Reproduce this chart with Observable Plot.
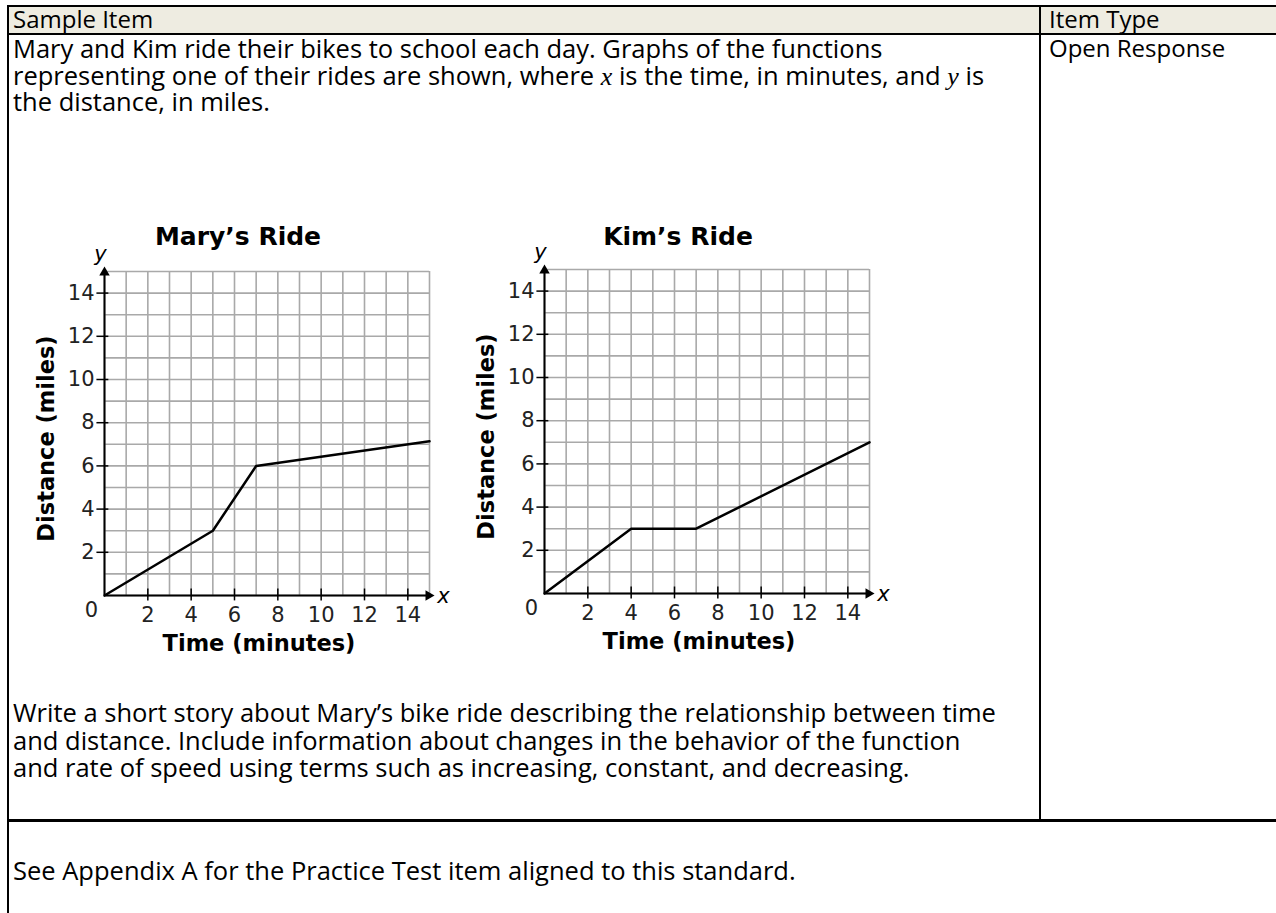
<!DOCTYPE html>
<html><head><meta charset="utf-8">
<script src="https://cdn.jsdelivr.net/npm/d3@7"></script>
<script src="https://cdn.jsdelivr.net/npm/@observablehq/plot@0.6"></script>
<style>
body{margin:0;background:#fff;}
#page{position:relative;width:1276px;height:913px;overflow:hidden;font-family:"Open Sans",Lato,sans-serif;font-size:24px;color:#000;}
.ln{position:absolute;white-space:nowrap;line-height:26px;}
.b{font-size:25.5px;}
.bar{position:absolute;background:#000;}
.m{font-family:"Liberation Serif",serif;font-style:italic;font-size:26px;}
.ttl{position:absolute;width:440px;text-align:center;font-family:"DejaVu Sans",sans-serif;font-weight:bold;font-size:25px;line-height:26px;}
.chart{position:absolute;}
</style></head><body>
<div id="page">
  <div style="position:absolute;left:8px;top:7px;width:1268px;height:26px;background:#EEECE1;"></div>
  <div class="bar" style="left:7px;top:5px;width:1269px;height:2px;"></div>
  <div class="bar" style="left:7px;top:33px;width:1269px;height:1.5px;"></div>
  <div class="bar" style="left:7px;top:5px;width:2px;height:908px;"></div>
  <div class="bar" style="left:1039px;top:5px;width:2px;height:816px;"></div>
  <div class="bar" style="left:7px;top:819px;width:1269px;height:2.5px;"></div>

  <div class="ln" style="left:13px;top:6px;">Sample Item</div>
  <div class="ln" style="left:1049px;top:6px;">Item Type</div>
  <div class="ln b" style="left:13px;top:35px;">Mary and Kim ride their bikes to school each day. Graphs of the functions</div>
  <div class="ln b" style="left:13px;top:62px;">representing one of their rides are shown, where <span class="m">x</span> is the time, in minutes, and <span class="m">y</span> is</div>
  <div class="ln b" style="left:13px;top:88px;">the distance, in miles.</div>
  <div class="ln" style="left:1049px;top:35px;">Open Response</div>

  <div class="ttl" style="left:18px;top:224px;">Mary’s Ride</div>
  <div class="ttl" style="left:458px;top:224px;">Kim’s Ride</div>
  <div class="chart" id="mary" style="left:20px;top:245px;"></div>
  <div class="chart" id="kim" style="left:460px;top:243px;"></div>

  <div class="ln b" style="left:13px;top:699px;">Write a short story about Mary’s bike ride describing the relationship between time</div>
  <div class="ln b" style="left:13px;top:727px;">and distance. Include information about changes in the behavior of the function</div>
  <div class="ln b" style="left:13px;top:754px;">and rate of speed using terms such as increasing, constant, and decreasing.</div>
  <div class="ln b" style="left:13px;top:857px;">See Appendix A for the Practice Test item aligned to this standard.</div>
</div>
<script>
const axisDomain = [0, 15];
const gridValues = [0, 1, 2, 3, 4, 5, 6, 7, 8, 9, 10, 11, 12, 13, 14, 15];
const xTickValues = [2, 4, 6, 8, 10, 12, 14];
const yTickValues = [2, 4, 6, 8, 10, 12, 14];
const originLabel = [0];
const xAxisTitle = "Time (minutes)";
const yAxisTitle = "Distance (miles)";
const maryTime = [0, 5, 7, 15];
const maryDistance = [0, 3, 6, 7.14];
const kimTime = [0, 4, 7, 15];
const kimDistance = [0, 3, 3, 7];

function rideChart(times, dists) {
  const data = times.map((t, i) => ({time: t, distance: dists[i]}));
  const gridStyle = {stroke: "#a9a9a9", strokeOpacity: 1, strokeWidth: 1.6};
  return Plot.plot({
    width: 440, height: 415,
    marginLeft: 84, marginRight: 31, marginTop: 26, marginBottom: 65,
    x: {domain: axisDomain, label: null},
    y: {domain: axisDomain, label: null},
    style: {fontFamily: "DejaVu Sans", fontSize: "21px", color: "#222", background: "none", overflow: "visible"},
    marks: [
      Plot.gridX(gridValues, gridStyle),
      Plot.gridY(gridValues, gridStyle),
      Plot.ruleX([axisDomain[0]], {stroke: "#000", strokeWidth: 2}),
      Plot.ruleY([axisDomain[0]], {stroke: "#000", strokeWidth: 2}),
      Plot.ruleX(xTickValues, {x: d => d, y1: -0.25, y2: 0.3, stroke: "#000", strokeWidth: 1.5}),
      Plot.ruleY(yTickValues, {y: d => d, x1: -0.35, x2: 0.2, stroke: "#000", strokeWidth: 1.5}),
      Plot.dot([[axisDomain[0], axisDomain[1]]], {x: d => d[0], y: d => d[1], symbol: "triangle2", r: 5, fill: "#000", stroke: "none", dy: 1}),
      Plot.dot([[axisDomain[1], axisDomain[0]]], {x: d => d[0], y: d => d[1], symbol: "triangle2", r: 5, rotate: 90, fill: "#000", stroke: "none", dx: -1}),
      Plot.axisX(xTickValues, {tickSize: 0, tickPadding: 12, fontSize: 21, fill: "#222", label: null}),
      Plot.axisY(yTickValues, {tickSize: 0, tickPadding: 10, fontSize: 21, fill: "#222", label: null}),
      Plot.text(originLabel, {x: d => d, y: d => d, text: d => String(d), dx: -13, dy: 15, fontSize: 21, fill: "#222"}),
      Plot.line(data, {x: "time", y: "distance", stroke: "#000", strokeWidth: 2.5}),
      Plot.text([xAxisTitle], {frameAnchor: "bottom", text: d => d, textAnchor: "middle", lineAnchor: "middle", dy: 48, dx: -8, fontWeight: "bold", fontSize: 22.5, fill: "#000"}),
      Plot.text([yAxisTitle], {frameAnchor: "left", text: d => d, textAnchor: "middle", lineAnchor: "middle", rotate: -90, dx: -58, dy: 5, fontWeight: "bold", fontSize: 22.5, fill: "#000"}),
      Plot.text(["y"], {frameAnchor: "top-left", text: d => d, textAnchor: "middle", lineAnchor: "middle", dx: -4, dy: -17, fontStyle: "italic", fontSize: 21, fill: "#000"}),
      Plot.text(["x"], {frameAnchor: "bottom-right", text: d => d, textAnchor: "middle", lineAnchor: "middle", dx: 14, dy: 1, fontStyle: "italic", fontSize: 21, fill: "#000"})
    ]
  });
}
document.getElementById("mary").append(rideChart(maryTime, maryDistance));
document.getElementById("kim").append(rideChart(kimTime, kimDistance));
</script>
</body></html>
